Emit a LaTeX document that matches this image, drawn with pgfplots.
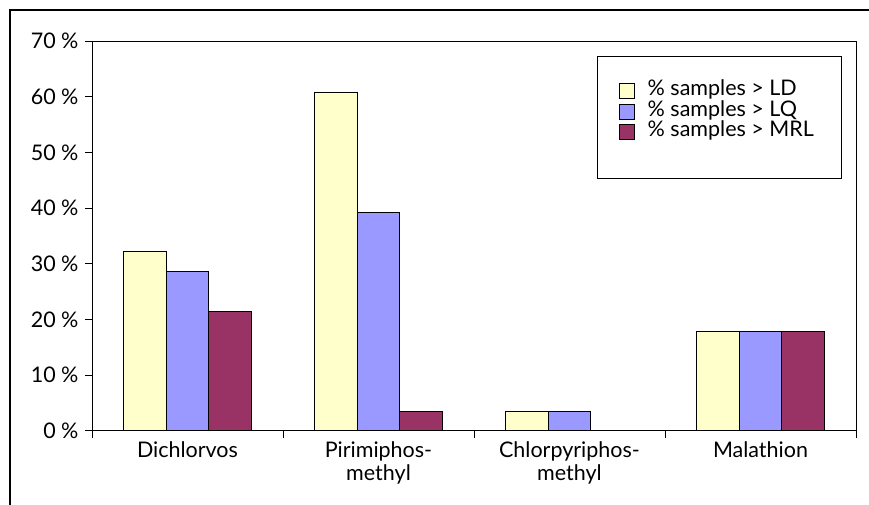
\documentclass[border=0pt]{standalone}
\usepackage{pgfplots}
\pgfplotsset{compat=1.18}
\usepackage{fontspec}
\setmainfont{Lato}
\definecolor{cLD}{HTML}{FFFFCC}
\definecolor{cLQ}{HTML}{9999FF}
\definecolor{cMRL}{HTML}{993366}
\begin{document}
\begin{tikzpicture}[x=1pt,y=1pt]
\useasboundingbox (0,0) rectangle (869,505);
\draw[line width=1.2pt] (10,0) -- (10,495) -- (869,495);
\begin{axis}[
  at={(92pt,74pt)}, anchor=south west,
  scale only axis, width=764pt, height=390pt,
  xmin=-0.5, xmax=3.5, ymin=0, ymax=70,
  ybar=0pt, bar width=42.5pt,
  xtick={0,1,2,3},
  xticklabels={Dichlorvos,{Pirimiphos-\\methyl},{Chlorpyriphos-\\methyl},Malathion},
  xticklabel style={align=center, font=\fontsize{21.5}{23}\selectfont},
  yticklabel style={font=\fontsize{21.5}{23}\selectfont, xshift=-3pt},
  major x tick style={draw=none},
  minor xtick={-0.5,0.5,1.5,2.5,3.5},
  tick align=outside, major tick length=7pt, minor tick length=7pt,
  xtick pos=lower, ytick pos=left,
  ytick={0,10,...,70},
  yticklabel={\pgfmathprintnumber{\tick} \%},
  /pgf/number format/assume math mode=true,
  axis line style={line width=1pt, black},
  every tick/.style={line width=1pt, black},
  legend style={draw=none, fill=none, at={(0.6898,0.8975)}, anchor=north west,
    font=\fontsize{21.5}{23}\selectfont, inner sep=0pt, row sep=0pt,
    nodes={inner xsep=2pt, inner ysep=1.75pt, text height=13pt, text depth=4pt}},
  legend cell align=left,
  legend image code/.code={\draw[#1, draw=black, line width=1pt] (0pt,-7.5pt) rectangle (15pt,7.5pt); \path[draw=none, fill=none] (0pt,0pt) -- (26pt,0pt);},
]
\addplot[fill=cLD, draw=black, line width=1pt] coordinates {(0,32.14) (1,60.71) (2,3.57) (3,17.86)};
\addplot[fill=cLQ, draw=black, line width=1pt] coordinates {(0,28.57) (1,39.29) (2,3.57) (3,17.86)};
\addplot[fill=cMRL, draw=black, line width=1pt] coordinates {(0,21.43) (1,3.57) (3,17.86)};
\legend{\% samples > LD, \% samples > LQ, \% samples > MRL}
\draw[line width=1pt] (axis description cs:0.6623,0.9615) rectangle (axis description cs:0.9804,0.6462);
\end{axis}
\end{tikzpicture}
\end{document}
